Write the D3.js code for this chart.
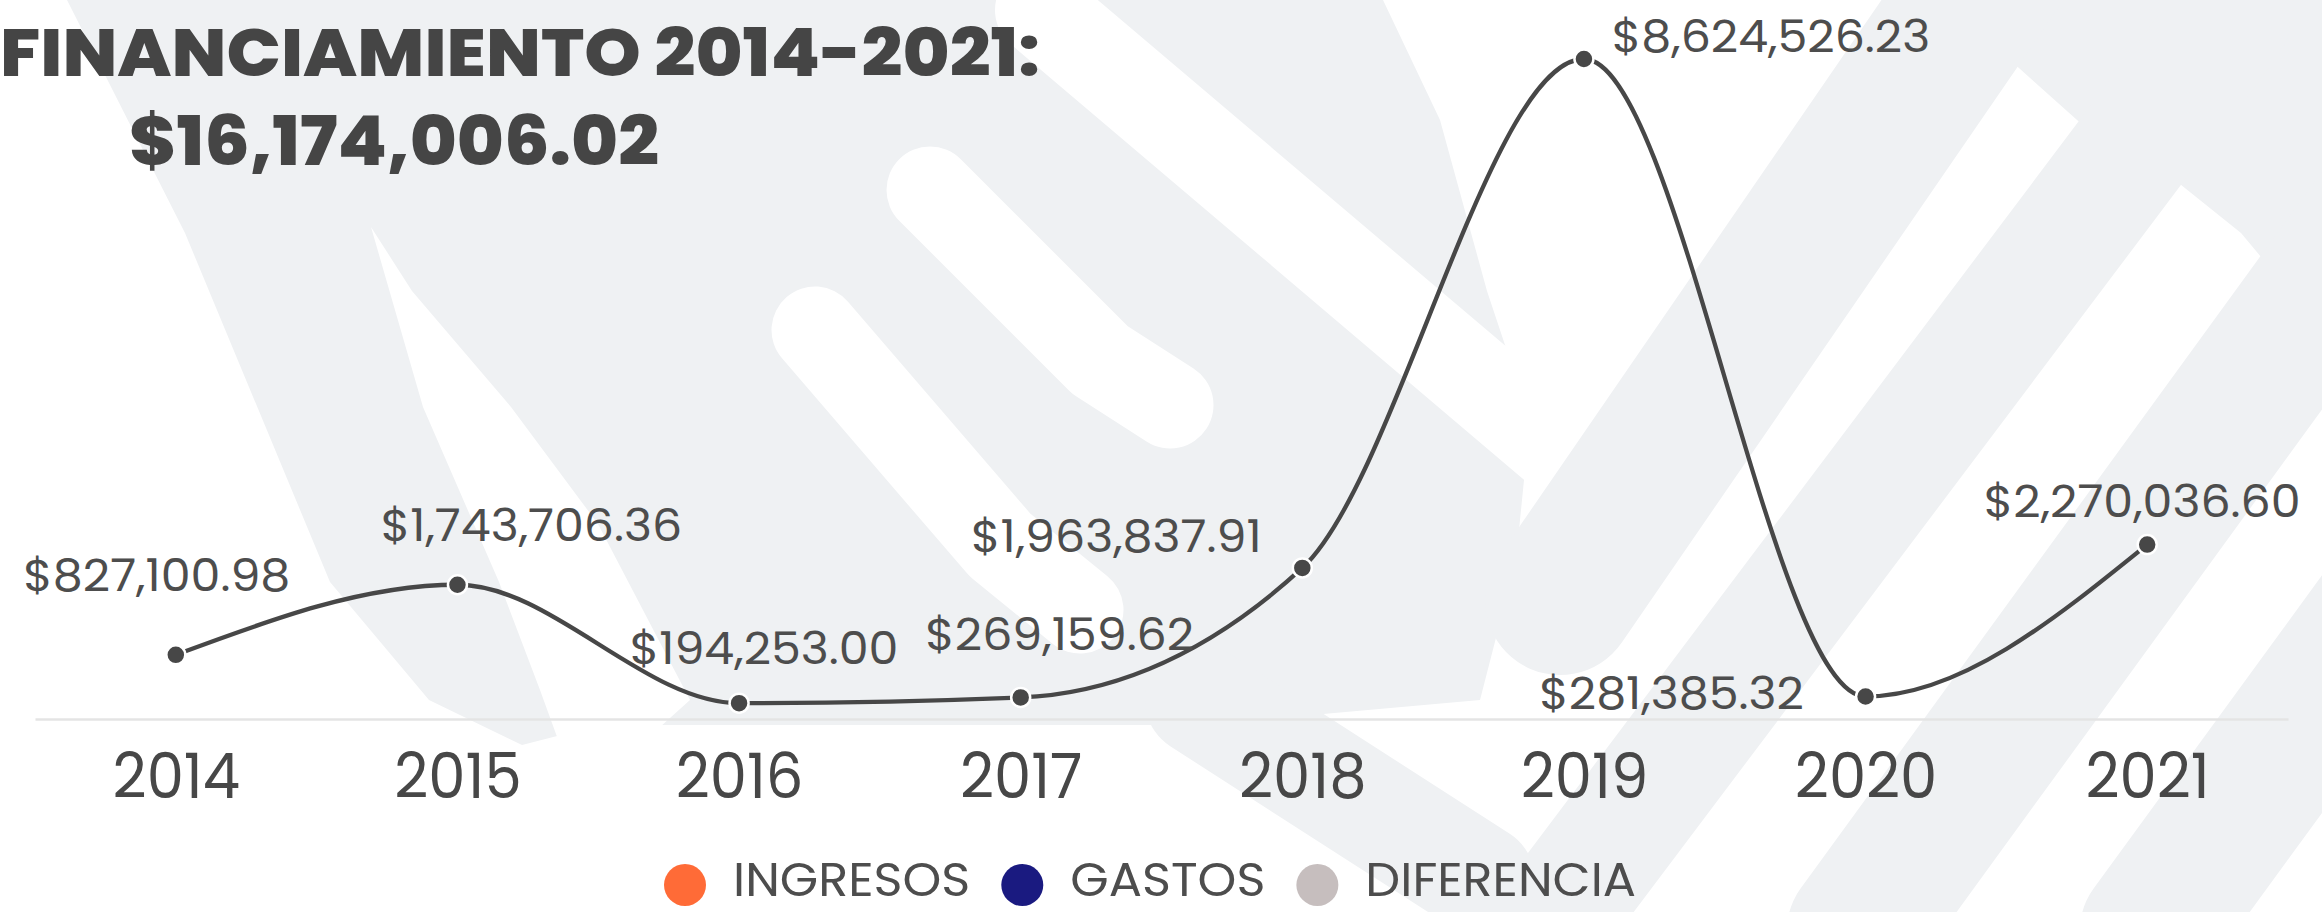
<!DOCTYPE html>
<html>
<head>
<meta charset="utf-8">
<script src="https://cdn.jsdelivr.net/npm/d3@7"></script>
<style>
  body { margin: 0; background: #fff; overflow: hidden; }
  svg { display: block; }
</style>
</head>
<body>
<div id="vis"></div>
<script>
// chart data
var years = ["2014", "2015", "2016", "2017", "2018", "2019", "2020", "2021"];
var amounts = [827100.98, 1743706.36, 194253.00, 269159.62, 1963837.91, 8624526.23, 281385.32, 2270036.60];
var titleLines = ["FINANCIAMIENTO 2014-2021:", "$16,174,006.02"];
var legendNames = ["INGRESOS", "GASTOS", "DIFERENCIA"];
var legendColors = ["#ff6b37", "#1a1a80", "#c6bebe"];

var width = 2322,
    height = 912;

var svg = d3.select("#vis").append("svg")
    .attr("width", width)
    .attr("height", height);

// faint logo watermark behind the chart (decoration only)
var wmGray = "#eff1f3";
var wmShapes = [
  // fan on the left
  {fill: wmGray, pts: [[67,0],[1383,0],[1440,120],[1487,291],[1530,420],[1516,560],[1480,700],[1200,725],[600,725],[522,745],[429,700],[330,582],[185,233]]},
  // white gaps cut into the fan
  {fill: "#fff", pts: [[371,227],[412,291],[511,407],[598,524],[690,700],[640,745],[560,745],[540,690],[499,582],[423,407]]},
  {fill: "#fff", line: [[815,330],[1000,545],[1080,610]], w: 87},
  {fill: "#fff", line: [[930,190],[1100,360],[1170,405]], w: 87},
  {fill: "#fff", line: [[1040,10],[1700,570]], w: 90},
  // bands on the right
  {fill: wmGray, pts: [[1950,0],[2322,0],[2322,330],[2241,233],[2150,160],[2086,128],[2010,60]]},
  {fill: wmGray, line: [[1560,600],[2000,-40]], w: 150},
  {fill: wmGray, line: [[1530,950],[2230,20]], w: 120},
  {fill: wmGray, line: [[1857,930],[2390,197]], w: 140},
  {fill: wmGray, line: [[2150,930],[2500,450]], w: 140},
  {fill: wmGray, line: [[1200,700],[1480,880]], w: 110}
];

var wm = svg.append("g").attr("class", "watermark");
wmShapes.forEach(function(s) {
  if (s.pts) {
    wm.append("polygon")
        .attr("points", s.pts.map(function(p) { return p.join(","); }).join(" "))
        .attr("fill", s.fill);
  } else {
    wm.append("path")
        .attr("d", d3.line()(s.line))
        .attr("fill", "none")
        .attr("stroke", s.fill)
        .attr("stroke-width", s.w)
        .attr("stroke-linecap", "round")
        .attr("stroke-linejoin", "round");
  }
});

// stretch text a little so the widths look like the original
function stretch(sel, k) {
  sel.each(function() {
    var w = this.getComputedTextLength();
    d3.select(this).attr("textLength", w * k).attr("lengthAdjust", "spacingAndGlyphs");
  });
}

var x = d3.scalePoint()
    .domain(years)
    .range([35, 2288])
    .padding(0.5);

var y = d3.scaleLinear()
    .domain([0, d3.max(amounts)])
    .range([718, 59]);

// x axis
var axis = svg.append("g")
    .attr("transform", "translate(0,719)")
    .call(d3.axisBottom(x).tickSize(0).tickSizeOuter(0).tickPadding(34));

axis.select(".domain")
    .attr("stroke", "#e4e4e4")
    .attr("stroke-width", 2.5);

axis.selectAll(".tick text")
    .attr("fill", "#474747")
    .style("font-family", "Poppins, Roboto, sans-serif")
    .style("font-size", "63px")
    .call(stretch, 0.94);

// title
svg.append("text")
    .attr("x", 0)
    .attr("y", 76)
    .attr("fill", "#454545")
    .style("font-family", "Poppins, 'Open Sans', sans-serif")
    .style("font-weight", 800)
    .style("font-size", "66px")
    .attr("textLength", 1040)
    .attr("lengthAdjust", "spacingAndGlyphs")
    .text(titleLines[0]);

svg.append("text")
    .attr("x", 129)
    .attr("y", 165)
    .attr("fill", "#454545")
    .style("font-family", "Poppins, 'Open Sans', sans-serif")
    .style("font-weight", 800)
    .style("font-size", "68px")
    .attr("textLength", 530)
    .attr("lengthAdjust", "spacingAndGlyphs")
    .text(titleLines[1]);

// line
var line = d3.line()
    .x(function(d, i) { return x(years[i]); })
    .y(function(d) { return y(d); })
    .curve(d3.curveMonotoneX);

svg.append("path")
    .datum(amounts)
    .attr("d", line)
    .attr("fill", "none")
    .attr("stroke", "#474747")
    .attr("stroke-width", 4.3);

svg.append("g")
    .selectAll("circle")
    .data(amounts)
    .enter().append("circle")
      .attr("cx", function(d, i) { return x(years[i]); })
      .attr("cy", function(d) { return y(d); })
      .attr("r", 9.5)
      .attr("fill", "#474747")
      .attr("stroke", "#fff")
      .attr("stroke-width", 2.5);

// value labels, nudged around their points like the original
var labelShift = [[-19,-64], [74,-44], [25,-39], [39,-47], [-186,-16], [187,-7], [-194,13], [-5,-28]];
var fmt = d3.format("$,.2f");

svg.append("g")
    .selectAll("text")
    .data(amounts)
    .enter().append("text")
      .attr("x", function(d, i) { return x(years[i]) + labelShift[i][0]; })
      .attr("y", function(d, i) { return y(d) + labelShift[i][1]; })
      .attr("text-anchor", "middle")
      .attr("fill", "#4d4d4d")
      .style("font-family", "Poppins, Roboto, sans-serif")
      .style("font-size", "44px")
      .text(function(d) { return fmt(d); })
      .call(stretch, 1.08);

// legend
var legend = svg.append("g").attr("transform", "translate(664,885)");
var lx = 0;
legendNames.forEach(function(name, i) {
  var item = legend.append("g").attr("transform", "translate(" + lx + ",0)");
  item.append("circle")
      .attr("cx", 21)
      .attr("cy", 0)
      .attr("r", 21)
      .attr("fill", legendColors[i]);
  var t = item.append("text")
      .attr("x", 69)
      .attr("y", 11)
      .attr("fill", "#4d4d4d")
      .style("font-family", "Poppins, Roboto, sans-serif")
      .style("font-size", "47px")
      .text(name);
  var tw = t.node().getComputedTextLength() * 1.05;
  t.attr("textLength", tw).attr("lengthAdjust", "spacingAndGlyphs");
  lx += 69 + tw + 31;
});
</script>
</body>
</html>
